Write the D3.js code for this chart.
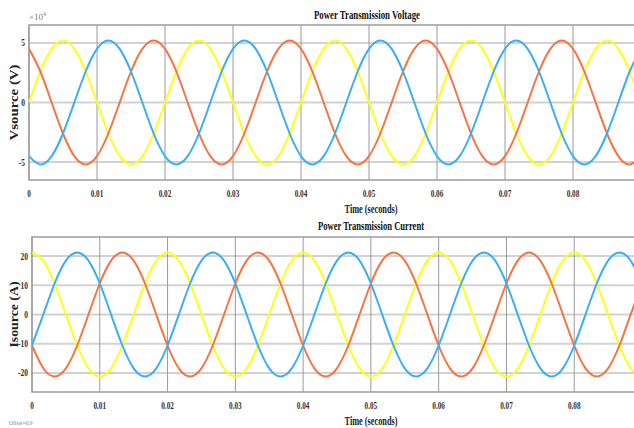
<!DOCTYPE html>
<html>
<head>
<meta charset="utf-8">
<script src="https://cdn.jsdelivr.net/npm/d3@7"></script>
<style>
  html, body { margin: 0; padding: 0; background: #fff; }
  svg { display: block; }
  text { font-family: "Liberation Serif", "DejaVu Serif", serif; }
</style>
</head>
<body>
<svg id="chart" width="634" height="428"></svg>
<script>
const sampleStep = 1 / 600;           // seconds between samples
const sampleCount = 55;               // 0 … 0.09 s

// Voltage (V)
const voltageYellow = [
  0, 26000, 45000, 52000, 45000, 26000, 0, -26000, -45000, -52000, -45000, -26000,
  0, 26000, 45000, 52000, 45000, 26000, 0, -26000, -45000, -52000, -45000, -26000,
  0, 26000, 45000, 52000, 45000, 26000, 0, -26000, -45000, -52000, -45000, -26000,
  0, 26000, 45000, 52000, 45000, 26000, 0, -26000, -45000, -52000, -45000, -26000,
  0, 26000, 45000, 52000, 45000, 26000, 0
];
const voltageBlue = [
  -45000, -52000, -45000, -26000, 0, 26000, 45000, 52000, 45000, 26000, 0, -26000,
  -45000, -52000, -45000, -26000, 0, 26000, 45000, 52000, 45000, 26000, 0, -26000,
  -45000, -52000, -45000, -26000, 0, 26000, 45000, 52000, 45000, 26000, 0, -26000,
  -45000, -52000, -45000, -26000, 0, 26000, 45000, 52000, 45000, 26000, 0, -26000,
  -45000, -52000, -45000, -26000, 0, 26000, 45000
];
const voltageOrange = [
  45000, 26000, 0, -26000, -45000, -52000, -45000, -26000, 0, 26000, 45000, 52000,
  45000, 26000, 0, -26000, -45000, -52000, -45000, -26000, 0, 26000, 45000, 52000,
  45000, 26000, 0, -26000, -45000, -52000, -45000, -26000, 0, 26000, 45000, 52000,
  45000, 26000, 0, -26000, -45000, -52000, -45000, -26000, 0, 26000, 45000, 52000,
  45000, 26000, 0, -26000, -45000, -52000, -45000
];

// Current (A)
const currentYellow = [
  21.2, 18.4, 10.6, 0, -10.6, -18.4, -21.2, -18.4, -10.6, 0, 10.6, 18.4,
  21.2, 18.4, 10.6, 0, -10.6, -18.4, -21.2, -18.4, -10.6, 0, 10.6, 18.4,
  21.2, 18.4, 10.6, 0, -10.6, -18.4, -21.2, -18.4, -10.6, 0, 10.6, 18.4,
  21.2, 18.4, 10.6, 0, -10.6, -18.4, -21.2, -18.4, -10.6, 0, 10.6, 18.4,
  21.2, 18.4, 10.6, 0, -10.6, -18.4, -21.2
];
const currentBlue = [
  -10.6, 0, 10.6, 18.4, 21.2, 18.4, 10.6, 0, -10.6, -18.4, -21.2, -18.4,
  -10.6, 0, 10.6, 18.4, 21.2, 18.4, 10.6, 0, -10.6, -18.4, -21.2, -18.4,
  -10.6, 0, 10.6, 18.4, 21.2, 18.4, 10.6, 0, -10.6, -18.4, -21.2, -18.4,
  -10.6, 0, 10.6, 18.4, 21.2, 18.4, 10.6, 0, -10.6, -18.4, -21.2, -18.4,
  -10.6, 0, 10.6, 18.4, 21.2, 18.4, 10.6
];
const currentOrange = [
  -10.6, -18.4, -21.2, -18.4, -10.6, 0, 10.6, 18.4, 21.2, 18.4, 10.6, 0,
  -10.6, -18.4, -21.2, -18.4, -10.6, 0, 10.6, 18.4, 21.2, 18.4, 10.6, 0,
  -10.6, -18.4, -21.2, -18.4, -10.6, 0, 10.6, 18.4, 21.2, 18.4, 10.6, 0,
  -10.6, -18.4, -21.2, -18.4, -10.6, 0, 10.6, 18.4, 21.2, 18.4, 10.6, 0,
  -10.6, -18.4, -21.2, -18.4, -10.6, 0, 10.6
];

const timeTicks = [0, 0.01, 0.02, 0.03, 0.04, 0.05, 0.06, 0.07, 0.08];
const timeTickLabels = ["0", "0.01", "0.02", "0.03", "0.04", "0.05", "0.06", "0.07", "0.08"];
const voltageTicks = [-50000, 0, 50000];
const voltageTickLabels = ["-5", "0", "5"];
const currentTicks = [-20, -10, 0, 10, 20];
const currentTickLabels = ["-20", "-10", "0", "10", "20"];

const times = d3.range(sampleCount).map(i => i * sampleStep);

// ---------- STYLE ----------
const colors = { yellow: "#ffff14", blue: "#3aaef5", orange: "#f7733f" };

const svg = d3.select("#chart");

function condensed(sel, width) {
  sel.attr("textLength", width).attr("lengthAdjust", "spacingAndGlyphs");
  return sel;
}

function drawPanel(cfg) {
  const x = d3.scaleLinear().domain([0, 0.09]).range([cfg.left, cfg.right]);
  const y = d3.scaleLinear().domain(cfg.yDomain).range([cfg.bottom, cfg.top]);
  const g = svg.append("g");

  // horizontal grid
  g.selectAll(".hgrid").data(cfg.yTicks).enter().append("line")
    .attr("x1", cfg.left).attr("x2", cfg.right)
    .attr("y1", d => y(d)).attr("y2", d => y(d))
    .attr("stroke", "#d2d2d2").attr("stroke-width", 2);
  // vertical grid
  g.selectAll(".vgrid").data(timeTicks).enter().append("line")
    .attr("x1", d => x(d)).attr("x2", d => x(d))
    .attr("y1", cfg.top).attr("y2", cfg.bottom)
    .attr("stroke", "#9a9a9a").attr("stroke-width", 1);

  // frame
  g.append("rect")
    .attr("x", cfg.left).attr("y", cfg.top)
    .attr("width", cfg.right - cfg.left).attr("height", cfg.bottom - cfg.top)
    .attr("fill", "none").attr("stroke", "#9c9c9c").attr("stroke-width", 1.5);

  // lines
  const clipId = "clip" + cfg.id;
  svg.append("clipPath").attr("id", clipId).append("rect")
    .attr("x", cfg.left).attr("y", cfg.top)
    .attr("width", cfg.right - cfg.left).attr("height", cfg.bottom - cfg.top);
  const line = d3.line().x((d, i) => x(times[i])).y(d => y(d)).curve(d3.curveNatural);
  cfg.series.forEach(s => {
    g.append("path").datum(s.values)
      .attr("clip-path", `url(#${clipId})`)
      .attr("d", line)
      .attr("fill", "none").attr("stroke", s.color).attr("stroke-width", 2);
  });

  // x tick labels
  g.selectAll(".xt").data(timeTicks).enter().append("text")
    .attr("x", d => x(d)).attr("y", cfg.bottom + 17)
    .attr("text-anchor", "middle").attr("font-size", 10).attr("font-weight", "bold")
    .attr("fill", "#333")
    .attr("transform", d => `translate(${x(d)},0) scale(0.72,1) translate(${-x(d)},0)`)
    .text((d, i) => timeTickLabels[i]);

  // y tick labels
  g.selectAll(".yt").data(cfg.yTicks).enter().append("text")
    .attr("x", cfg.left - 4).attr("y", d => y(d) + 3.5)
    .attr("text-anchor", "end").attr("font-size", 10).attr("font-weight", "bold")
    .attr("fill", "#333")
    .attr("transform", `translate(${cfg.left - 4},0) scale(0.75,1) translate(${-(cfg.left - 4)},0)`)
    .text((d, i) => cfg.yTickLabels[i]);

  // x label
  condensed(g.append("text")
    .attr("x", 371).attr("y", cfg.xLabelY)
    .attr("text-anchor", "middle").attr("font-size", 12).attr("font-weight", "bold")
    .attr("fill", "#222")
    .text("Time (seconds)"), 53);

  // title
  condensed(g.append("text")
    .attr("x", cfg.titleX).attr("y", cfg.titleY)
    .attr("text-anchor", "middle").attr("font-size", 12).attr("font-weight", "bold")
    .attr("fill", "#111")
    .text(cfg.title), 106);

  // y label
  const ycx = 14, ycy = (cfg.top + cfg.bottom) / 2 + cfg.yLabelShift;
  condensed(g.append("text")
    .attr("transform", `translate(${ycx + 4},${ycy}) rotate(-90)`)
    .attr("text-anchor", "middle").attr("font-size", 13).attr("font-weight", "bold")
    .attr("fill", "#222")
    .text(cfg.yLabel), cfg.yLabelWidth);

  return { x, y };
}

drawPanel({
  id: "v", left: 29, right: 641, top: 25, bottom: 180,
  yDomain: [-65000, 65000], yTicks: voltageTicks, yTickLabels: voltageTickLabels,
  series: [
    { values: voltageYellow, color: colors.yellow },
    { values: voltageOrange, color: colors.orange },
    { values: voltageBlue, color: colors.blue }
  ],
  title: "Power Transmission Voltage", titleX: 367, titleY: 19,
  xLabelY: 213, yLabel: "Vsource (V)", yLabelWidth: 76, yLabelShift: 0
});

drawPanel({
  id: "i", left: 32, right: 642, top: 237, bottom: 392,
  yDomain: [-26.5, 26.5], yTicks: currentTicks, yTickLabels: currentTickLabels,
  series: [
    { values: currentYellow, color: colors.yellow },
    { values: currentOrange, color: colors.orange },
    { values: currentBlue, color: colors.blue }
  ],
  title: "Power Transmission Current", titleX: 371, titleY: 230,
  xLabelY: 425, yLabel: "Isource (A)", yLabelWidth: 66, yLabelShift: 0
});

// exponent label
svg.append("text").attr("x", 29).attr("y", 20)
  .attr("font-size", 9).attr("fill", "#777")
  .text("×10").append("tspan").attr("dy", -4).attr("font-size", 6).text("4");

// offset note
svg.append("text").attr("x", 9).attr("y", 425)
  .attr("font-size", 5.5).attr("fill", "#888")
  .text("Offset=0.9");
</script>
</body>
</html>
